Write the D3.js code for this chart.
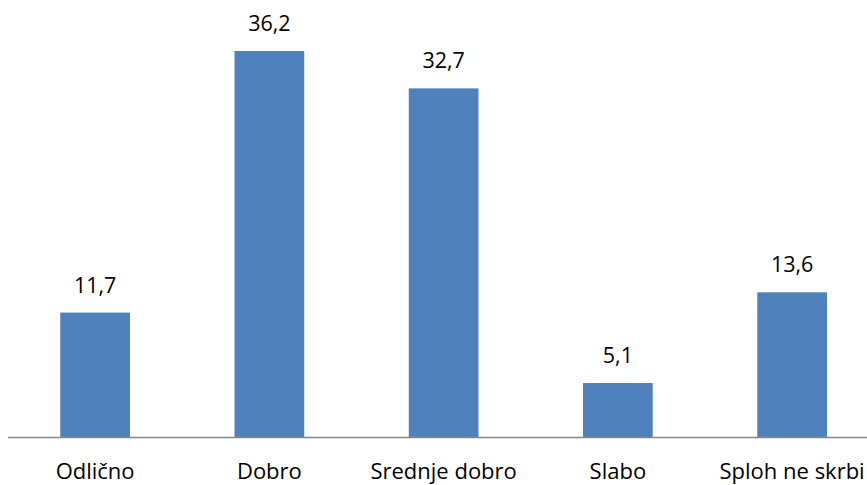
<!DOCTYPE html>
<html>
<head>
<meta charset="utf-8">
<script src="https://cdn.jsdelivr.net/npm/d3@7"></script>
<style>
  body { margin: 0; background: #fff; }
  svg { display: block; }
  text { font-family: "Open Sans", sans-serif; fill: #000; }
</style>
</head>
<body>
<svg id="chart" width="867" height="485"></svg>
<script>
const categories = ["Odlično", "Dobro", "Srednje dobro", "Slabo", "Sploh ne skrbi"];
const values = [11.7, 36.2, 32.7, 5.1, 13.6];

const svg = d3.select("#chart");
const baseY = 437.5;

let x = d3.scaleBand()
  .domain(categories)
  .range([8, 8 + 174.25 * categories.length])
  .paddingInner(0.6)
  .paddingOuter(0.3);

let y = d3.scaleLinear()
  .domain([0, 36.2])
  .range([baseY, 51]);

// bars
svg.selectAll("rect.bar")
  .data(values)
  .join("rect")
  .attr("class", "bar")
  .attr("x", (d, i) => x(categories[i]))
  .attr("y", d => y(d))
  .attr("width", x.bandwidth())
  .attr("height", d => baseY - y(d))
  .attr("fill", "#4F81BD");

// axis line
svg.append("line")
  .attr("x1", 8).attr("x2", 867)
  .attr("y1", baseY).attr("y2", baseY)
  .attr("stroke", "#868686")
  .attr("stroke-width", 1.5);

// value labels
svg.selectAll("text.val")
  .data(values)
  .join("text")
  .attr("class", "val")
  .attr("x", (d, i) => x(categories[i]) + x.bandwidth() / 2)
  .attr("y", d => y(d) - 20)
  .attr("text-anchor", "middle")
  .attr("font-size", 21.5)
  .text(d => d.toFixed(1).replace(".", ","));

// category labels
svg.selectAll("text.cat")
  .data(categories)
  .join("text")
  .attr("class", "cat")
  .attr("x", d => x(d) + x.bandwidth() / 2)
  .attr("y", 479)
  .attr("text-anchor", "middle")
  .attr("font-size", 22)
  .text(d => d);
</script>
</body>
</html>
